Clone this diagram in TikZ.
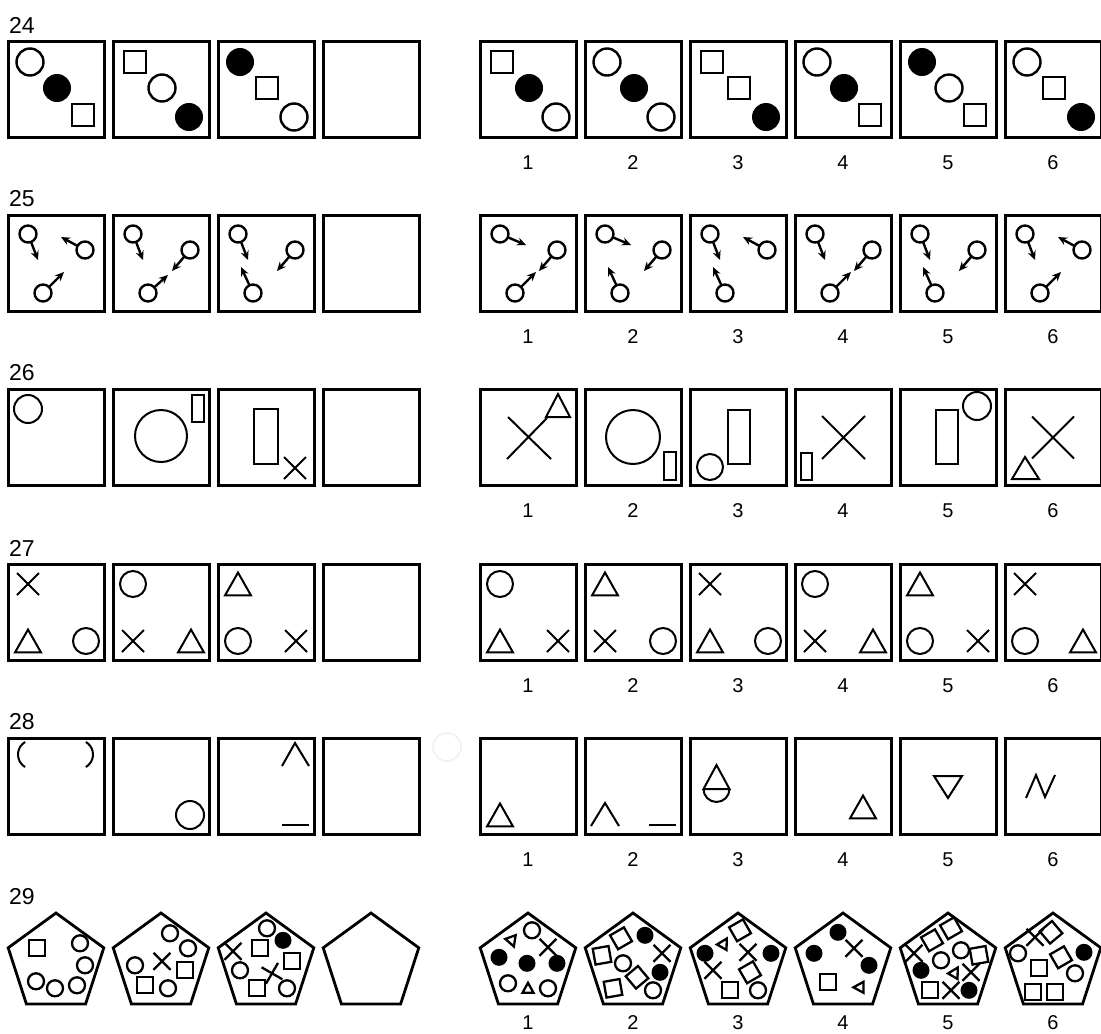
\documentclass[tikz,border=0pt]{standalone}
\usepackage{fontspec}
\setmainfont{Liberation Sans}
\usetikzlibrary{arrows.meta}

\tikzset{
  frame/.style={line width=3pt},
  shp/.style={line width=2.4pt},
  lite/.style={line width=2pt},
  pshp/.style={line width=2.3pt},
  qnum/.style={font=\fontsize{23}{23}\selectfont, anchor=west, inner sep=0pt},
  anum/.style={font=\fontsize{20}{20}\selectfont, inner sep=0pt},
}

% box figures
\newcommand{\ringat}[4][shp]{\draw[#1] (#2,#3) circle (#4);}
\newcommand{\discat}[3]{\fill (#1,#2) circle (#3);}
\newcommand{\squareat}[3]{\draw[shp] ({#1-#3},{#2-#3}) rectangle ({#1+#3},{#2+#3});}
\newcommand{\crossat}[3]{\draw[lite] ({#1-#3},{#2-#3}) -- ({#1+#3},{#2+#3}) ({#1-#3},{#2+#3}) -- ({#1+#3},{#2-#3});}
\newcommand{\triat}[3]{\draw[lite] ({#1-#3},{#2+0.88*#3}) -- ({#1+#3},{#2+0.88*#3}) -- (#1,{#2-0.88*#3}) -- cycle;}
% circle with arrow: centre (#1,#2), tip (#3,#4)
\newcommand{\signat}[4]{\draw[shp,-{Stealth[length=9pt,width=8pt]}] (#1,#2) -- (#3,#4); \draw[shp,fill=white] (#1,#2) circle (8.5);}
% pentagon figures
\newcommand{\pentat}[2]{\draw[line width=2.8pt] (#1,{#2-50.3}) -- ({#1+47.8},{#2-15.5}) -- ({#1+29.6},{#2+40.7}) -- ({#1-29.6},{#2+40.7}) -- ({#1-47.8},{#2-15.5}) -- cycle;}
\newcommand{\pRing}[2]{\draw[pshp] (#1,#2) circle (8);}
\newcommand{\pDot}[2]{\fill (#1,#2) circle (8.5);}
\newcommand{\pSq}[3]{\draw[pshp, rotate around={#3:(#1,#2)}] ({#1-8},{#2-8}) rectangle ({#1+8},{#2+8});}
\newcommand{\pX}[3]{\draw[pshp, rotate around={#3:(#1,#2)}] ({#1-8.5},{#2-8.5}) -- ({#1+8.5},{#2+8.5}) ({#1-8.5},{#2+8.5}) -- ({#1+8.5},{#2-8.5});}
\newcommand{\pTri}[3]{\draw[pshp, rotate around={#3:(#1,#2)}] ({#1-5.5},{#2+4.5}) -- ({#1+5.5},{#2+4.5}) -- (#1,{#2-5.5}) -- cycle;}

\begin{document}
\begin{tikzpicture}[x=1pt, y=-1pt]
  \fill[white] (0,0) rectangle (1101,1034);
  \useasboundingbox (0,0) rectangle (1101,1034);

  % labels
  \foreach \t/\r/\l in {41/24/163, 215/25/337, 389/26/511, 564/27/686, 738/28/860, 913/29/1023}{
    \node[qnum] (row\r) at (9,{\t-16}) {\r};
    \foreach \k [count=\i] in {528,633,738,843,948,1053}
      \node[anum] (a\r-\i) at (\k,\l) {\i};
  }

  % frames
  \foreach \x in {8,113,218,323,480,585,690,795,900,1005}
    \foreach \t in {41,215,389,564,738}
      \draw[frame] (\x,\t) rectangle ++(96,96);

  % 24
  \begin{scope}[shift={(8,41)}]
    \ringat{22}{21}{13.5} \discat{49}{47}{14} \squareat{75}{74}{11}
  \end{scope}
  \begin{scope}[shift={(113,41)}]
    \squareat{22}{21}{11} \ringat{49}{47}{13.5} \discat{76}{76}{14}
  \end{scope}
  \begin{scope}[shift={(218,41)}]
    \discat{22}{21}{14} \squareat{49}{47}{11} \ringat{76}{76}{13.5}
  \end{scope}
  \begin{scope}[shift={(480,41)}]
    \squareat{22}{21}{11} \discat{49}{47}{14} \ringat{76}{76}{13.5}
  \end{scope}
  \begin{scope}[shift={(585,41)}]
    \ringat{22}{21}{13.5} \discat{49}{47}{14} \ringat{76}{76}{13.5}
  \end{scope}
  \begin{scope}[shift={(690,41)}]
    \squareat{22}{21}{11} \squareat{49}{47}{11} \discat{76}{76}{14}
  \end{scope}
  \begin{scope}[shift={(795,41)}]
    \ringat{22}{21}{13.5} \discat{49}{47}{14} \squareat{75}{74}{11}
  \end{scope}
  \begin{scope}[shift={(900,41)}]
    \discat{22}{21}{14} \ringat{49}{47}{13.5} \squareat{75}{74}{11}
  \end{scope}
  \begin{scope}[shift={(1005,41)}]
    \ringat{22}{21}{13.5} \squareat{49}{47}{11} \discat{76}{76}{14}
  \end{scope}

  % 25
  \begin{scope}[shift={(8,215)}]
    \signat{20}{19}{30}{45} \signat{77}{35}{53}{22} \signat{35}{78}{56}{57}
  \end{scope}
  \begin{scope}[shift={(113,215)}]
    \signat{20}{19}{30}{45} \signat{77}{35}{59}{56} \signat{35}{78}{55}{60}
  \end{scope}
  \begin{scope}[shift={(218,215)}]
    \signat{20}{19}{30}{45} \signat{77}{35}{59}{56} \signat{35}{78}{23}{52}
  \end{scope}
  \begin{scope}[shift={(480,215)}]
    \signat{20}{19}{46}{30} \signat{77}{35}{59}{56} \signat{35}{78}{56}{57}
  \end{scope}
  \begin{scope}[shift={(585,215)}]
    \signat{20}{19}{46}{30} \signat{77}{35}{59}{56} \signat{35}{78}{23}{52}
  \end{scope}
  \begin{scope}[shift={(690,215)}]
    \signat{20}{19}{30}{45} \signat{77}{35}{53}{22} \signat{35}{78}{23}{52}
  \end{scope}
  \begin{scope}[shift={(795,215)}]
    \signat{20}{19}{30}{45} \signat{77}{35}{59}{56} \signat{35}{78}{56}{57}
  \end{scope}
  \begin{scope}[shift={(900,215)}]
    \signat{20}{19}{30}{45} \signat{77}{35}{59}{56} \signat{35}{78}{23}{52}
  \end{scope}
  \begin{scope}[shift={(1005,215)}]
    \signat{20}{19}{30}{45} \signat{77}{35}{53}{22} \signat{35}{78}{56}{57}
  \end{scope}

  % 26
  \begin{scope}[shift={(8,389)}]
    \ringat[lite]{20}{20}{14}
  \end{scope}
  \begin{scope}[shift={(113,389)}]
    \draw[lite] (79,6) rectangle (91,33); \ringat[lite]{48}{47}{26}
  \end{scope}
  \begin{scope}[shift={(218,389)}]
    \draw[lite] (36,20) rectangle (60,75); \crossat{77}{79}{11}
  \end{scope}
  \begin{scope}[shift={(480,389)}]
    \draw[lite] (28,28) -- (71,70) (27,70) -- (67,29);
    \draw[lite] (66,28) -- (90,28) -- (78,5) -- cycle;
  \end{scope}
  \begin{scope}[shift={(585,389)}]
    \ringat[lite]{48}{48}{27} \draw[lite] (79,63) rectangle (91,91);
  \end{scope}
  \begin{scope}[shift={(690,389)}]
    \ringat[lite]{20}{78}{13} \draw[lite] (38,21) rectangle (60,75);
  \end{scope}
  \begin{scope}[shift={(795,389)}]
    \draw[lite] (6,64) rectangle (17,91); \crossat{48.5}{48.5}{21.5}
  \end{scope}
  \begin{scope}[shift={(900,389)}]
    \draw[lite] (36,21) rectangle (58,75); \ringat[lite]{77}{17}{14}
  \end{scope}
  \begin{scope}[shift={(1005,389)}]
    \crossat{48}{48.5}{21}
    \draw[lite] (7,90) -- (34,90) -- (20,68) -- cycle;
  \end{scope}

  % 27
  \begin{scope}[shift={(8,564)}]
    \crossat{20}{20}{11} \triat{20}{77}{13} \ringat[lite]{78}{77}{13}
  \end{scope}
  \begin{scope}[shift={(113,564)}]
    \ringat[lite]{20}{20}{13} \crossat{20}{77}{11} \triat{78}{77}{13}
  \end{scope}
  \begin{scope}[shift={(218,564)}]
    \triat{20}{20}{13} \ringat[lite]{20}{77}{13} \crossat{78}{77}{11}
  \end{scope}
  \begin{scope}[shift={(480,564)}]
    \ringat[lite]{20}{20}{13} \triat{20}{77}{13} \crossat{78}{77}{11}
  \end{scope}
  \begin{scope}[shift={(585,564)}]
    \triat{20}{20}{13} \crossat{20}{77}{11} \ringat[lite]{78}{77}{13}
  \end{scope}
  \begin{scope}[shift={(690,564)}]
    \crossat{20}{20}{11} \triat{20}{77}{13} \ringat[lite]{78}{77}{13}
  \end{scope}
  \begin{scope}[shift={(795,564)}]
    \ringat[lite]{20}{20}{13} \crossat{20}{77}{11} \triat{78}{77}{13}
  \end{scope}
  \begin{scope}[shift={(900,564)}]
    \triat{20}{20}{13} \ringat[lite]{20}{77}{13} \crossat{78}{77}{11}
  \end{scope}
  \begin{scope}[shift={(1005,564)}]
    \crossat{20}{20}{11} \ringat[lite]{20}{77}{13} \triat{78}{77}{13}
  \end{scope}

  % 28
  \begin{scope}[shift={(8,738)}]
    \draw[lite] (17.1,29) arc[start angle=121, end angle=239, radius=14.6];
    \draw[lite] (77.9,4) arc[start angle=-59, end angle=59, radius=14.6];
  \end{scope}
  \begin{scope}[shift={(113,738)}]
    \ringat[lite]{77}{77}{14}
  \end{scope}
  \begin{scope}[shift={(218,738)}]
    \draw[lite] (64,28) -- (77,5) -- (91,28);
    \draw[lite] (64,87) -- (91,87);
  \end{scope}
  \draw[gray!12, line width=1.5pt] (447,747) circle (14);
  \begin{scope}[shift={(480,738)}]
    \triat{20}{77}{13}
  \end{scope}
  \begin{scope}[shift={(585,738)}]
    \draw[lite] (6,88) -- (20,65) -- (34,88);
    \draw[lite] (64,87) -- (91,87);
  \end{scope}
  \begin{scope}[shift={(690,738)}]
    \draw[lite] (13.5,51) -- (26.5,27) -- (39.5,51) -- cycle;
    \draw[lite] (13.5,51) arc[start angle=180, end angle=0, radius=13];
  \end{scope}
  \begin{scope}[shift={(795,738)}]
    \triat{68}{69}{13}
  \end{scope}
  \begin{scope}[shift={(900,738)}]
    \draw[lite] (34,38) -- (62,38) -- (48,60) -- cycle;
  \end{scope}
  \begin{scope}[shift={(1005,738)}]
    \draw[lite] (21,60) -- (31,37) -- (40,59) -- (50,37);
  \end{scope}

  % 29
  \foreach \c in {56,161,266,371,528,633,738,843,948,1053}{
    \pentat{\c}{963.3}
  }
  \begin{scope}[shift={(56,963.3)}]
    \pSq{-19}{-15}{0} \pRing{24}{-20} \pRing{29}{2} \pRing{21}{22}
    \pRing{-20}{18} \pRing{-1}{25}
  \end{scope}
  \begin{scope}[shift={(161,963.3)}]
    \pRing{9}{-30} \pRing{27}{-15} \pRing{-26}{2} \pX{1}{-2}{0}
    \pSq{24}{7}{0} \pSq{-16}{22}{0} \pRing{7}{25}
  \end{scope}
  \begin{scope}[shift={(266,963.3)}]
    \pRing{1}{-35} \pDot{17}{-23} \pX{-33}{-12}{0} \pSq{-6}{-15}{0}
    \pRing{-26}{7} \pSq{26}{-2}{0} \pX{6}{10}{15} \pSq{-9}{25}{0} \pRing{21}{25}
  \end{scope}
  \begin{scope}[shift={(528,963.3)}]
    \pTri{-16}{-22}{200} \pRing{4}{-33} \pX{20}{-16}{0}
    \pDot{-29}{-6} \pDot{-1}{0} \pDot{29}{0}
    \pRing{-20}{20} \pTri{0}{25}{0} \pRing{20}{25}
  \end{scope}
  \begin{scope}[shift={(633,963.3)}]
    \pSq{-31}{-8}{10} \pSq{-12}{-25}{30} \pDot{12}{-28} \pX{29}{-10}{0}
    \pRing{-10}{0} \pDot{27}{9} \pSq{4}{14}{40} \pSq{-20}{25}{10} \pRing{20}{27}
  \end{scope}
  \begin{scope}[shift={(738,963.3)}]
    \pSq{2}{-33}{30} \pTri{-14}{-20}{-30} \pDot{-33}{-10} \pX{10}{-11}{0}
    \pDot{33}{-10} \pX{-25}{7}{0} \pSq{12}{9}{30} \pSq{-8}{27}{0} \pRing{20}{27}
  \end{scope}
  \begin{scope}[shift={(843,963.3)}]
    \pDot{-5}{-31} \pX{11}{-15}{0} \pDot{-29}{-10} \pDot{26}{2}
    \pSq{-15}{19}{0} \pTri{16}{24}{90}
  \end{scope}
  \begin{scope}[shift={(948,963.3)}]
    \pX{-34}{-10}{0} \pSq{-16}{-23}{30} \pSq{3}{-35}{30} \pRing{13}{-13}
    \pSq{31}{-8}{10} \pRing{-7}{-3} \pDot{-27}{7} \pTri{7}{9}{-30}
    \pX{23}{9}{0} \pSq{-18}{27}{0} \pX{3}{27}{0} \pDot{21}{27}
  \end{scope}
  \begin{scope}[shift={(1053,963.3)}]
    \pRing{-35}{-10} \pX{-18}{-26}{0} \pSq{-2}{-31}{40} \pSq{8}{-6}{30}
    \pDot{31}{-11} \pSq{-14}{5}{0} \pRing{22}{10} \pSq{-20}{29}{0} \pSq{2}{29}{0}
  \end{scope}
\end{tikzpicture}
\end{document}
